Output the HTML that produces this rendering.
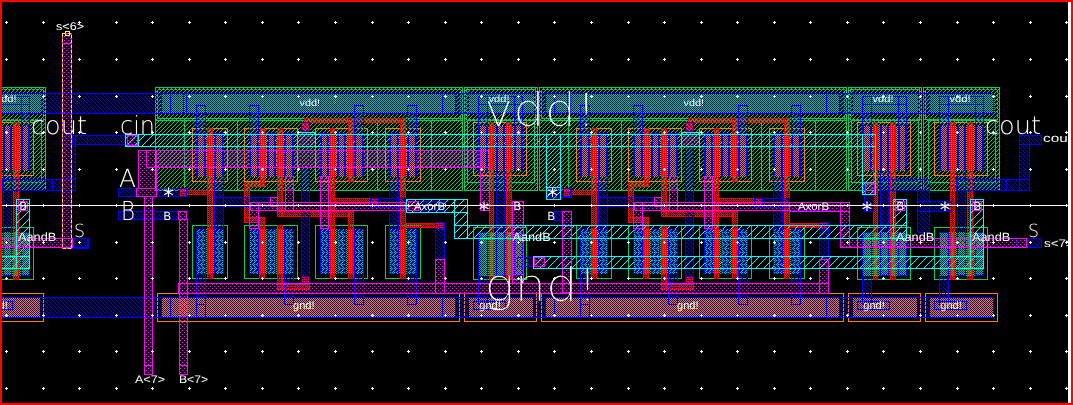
<!DOCTYPE html><html><head><meta charset="utf-8"><title>layout</title><style>html,body{margin:0;padding:0;background:#000;overflow:hidden}svg{display:block}text{font-family:"Liberation Sans",sans-serif;fill:#fff}.d{font-family:"DejaVu Sans","Liberation Sans",sans-serif}.l{font-family:"DejaVu Sans Light","DejaVu Sans","Liberation Sans",sans-serif;font-weight:200}</style></head><body>
<svg width="1073" height="405" viewBox="0 0 1073 405" shape-rendering="crispEdges" text-rendering="geometricPrecision"><defs><pattern id="nw" width="4" height="4" patternUnits="userSpaceOnUse"><rect x="3" y="0" width="1" height="1" fill="#00cc66"/><rect x="2" y="1" width="1" height="1" fill="#00cc66"/><rect x="1" y="2" width="1" height="1" fill="#00cc66"/><rect x="0" y="3" width="1" height="1" fill="#00cc66"/></pattern><pattern id="m1" width="4" height="4" patternUnits="userSpaceOnUse"><rect x="0" y="0" width="1" height="1" fill="#0000ff"/><rect x="1" y="1" width="1" height="1" fill="#0000ff"/><rect x="2" y="2" width="1" height="1" fill="#0000ff"/><rect x="3" y="3" width="1" height="1" fill="#0000ff"/></pattern><pattern id="m3" width="8" height="8" patternUnits="userSpaceOnUse"><rect x="7" y="0" width="1" height="1" fill="#00ffff"/><rect x="6" y="1" width="1" height="1" fill="#00ffff"/><rect x="5" y="2" width="1" height="1" fill="#00ffff"/><rect x="4" y="3" width="1" height="1" fill="#00ffff"/><rect x="3" y="4" width="1" height="1" fill="#00ffff"/><rect x="2" y="5" width="1" height="1" fill="#00ffff"/><rect x="1" y="6" width="1" height="1" fill="#00ffff"/><rect x="0" y="7" width="1" height="1" fill="#00ffff"/></pattern><pattern id="m2" width="4" height="4" patternUnits="userSpaceOnUse"><rect x="0" y="0" width="1" height="1" fill="#ff00ff"/><rect x="2" y="2" width="1" height="1" fill="#ff00ff"/></pattern><pattern id="po" width="2" height="2" patternUnits="userSpaceOnUse"><rect x="0" y="0" width="1" height="1" fill="#ff0000"/><rect x="1" y="1" width="1" height="1" fill="#ff0000"/></pattern><pattern id="pa" width="2" height="2" patternUnits="userSpaceOnUse"><rect x="0" y="1" width="1" height="1" fill="#ff8000"/><rect x="1" y="0" width="1" height="1" fill="#ff8000"/></pattern><pattern id="na" width="2" height="2" patternUnits="userSpaceOnUse"><rect x="0" y="1" width="1" height="1" fill="#00cc66"/><rect x="1" y="0" width="1" height="1" fill="#00cc66"/></pattern><pattern id="pg" width="2" height="2" patternUnits="userSpaceOnUse"><rect x="0" y="0" width="1" height="1" fill="#ff0000"/><rect x="0" y="1" width="1" height="1" fill="#ff0000"/><rect x="1" y="1" width="1" height="1" fill="#ff0000"/></pattern><pattern id="sp" width="4" height="8" patternUnits="userSpaceOnUse"><rect width="4" height="8" fill="#000"/><rect x="0" y="0" width="1" height="1" fill="#ff8000"/><rect x="0" y="2" width="1" height="1" fill="#ff8000"/><rect x="0" y="3" width="1" height="1" fill="#0000ff"/><rect x="0" y="4" width="1" height="1" fill="#ff8000"/><rect x="0" y="5" width="1" height="1" fill="#0000ff"/><rect x="0" y="6" width="1" height="1" fill="#ff8000"/><rect x="1" y="0" width="1" height="1" fill="#0000ff"/><rect x="1" y="1" width="1" height="1" fill="#ff8000"/><rect x="1" y="3" width="1" height="1" fill="#ff8000"/><rect x="1" y="4" width="1" height="1" fill="#0000ff"/><rect x="1" y="5" width="1" height="1" fill="#ff8000"/><rect x="1" y="7" width="1" height="1" fill="#ff8000"/><rect x="2" y="0" width="1" height="1" fill="#ff8000"/><rect x="2" y="1" width="1" height="1" fill="#0000ff"/><rect x="2" y="2" width="1" height="1" fill="#ff8000"/><rect x="2" y="4" width="1" height="1" fill="#ff8000"/><rect x="2" y="6" width="1" height="1" fill="#ff8000"/><rect x="2" y="7" width="1" height="1" fill="#0000ff"/><rect x="3" y="1" width="1" height="1" fill="#ff8000"/><rect x="3" y="2" width="1" height="1" fill="#0000ff"/><rect x="3" y="3" width="1" height="1" fill="#ff8000"/><rect x="3" y="5" width="1" height="1" fill="#ff8000"/><rect x="3" y="6" width="1" height="1" fill="#0000ff"/><rect x="3" y="7" width="1" height="1" fill="#ff8000"/></pattern><pattern id="sn" width="4" height="8" patternUnits="userSpaceOnUse"><rect width="4" height="8" fill="#000"/><rect x="0" y="0" width="1" height="1" fill="#00cc66"/><rect x="0" y="1" width="1" height="1" fill="#0000ff"/><rect x="0" y="3" width="1" height="1" fill="#0000ff"/><rect x="0" y="4" width="1" height="1" fill="#00cc66"/><rect x="0" y="5" width="1" height="1" fill="#0000ff"/><rect x="0" y="7" width="1" height="1" fill="#0000ff"/><rect x="1" y="0" width="1" height="1" fill="#0000ff"/><rect x="1" y="1" width="1" height="1" fill="#00cc66"/><rect x="1" y="2" width="1" height="1" fill="#0000ff"/><rect x="1" y="4" width="1" height="1" fill="#0000ff"/><rect x="1" y="6" width="1" height="1" fill="#0000ff"/><rect x="1" y="7" width="1" height="1" fill="#00cc66"/><rect x="2" y="0" width="1" height="1" fill="#00cc66"/><rect x="2" y="1" width="1" height="1" fill="#0000ff"/><rect x="2" y="2" width="1" height="1" fill="#00cc66"/><rect x="2" y="3" width="1" height="1" fill="#0000ff"/><rect x="2" y="4" width="1" height="1" fill="#00cc66"/><rect x="2" y="5" width="1" height="1" fill="#0000ff"/><rect x="2" y="6" width="1" height="1" fill="#00cc66"/><rect x="2" y="7" width="1" height="1" fill="#0000ff"/><rect x="3" y="0" width="1" height="1" fill="#0000ff"/><rect x="3" y="2" width="1" height="1" fill="#0000ff"/><rect x="3" y="3" width="1" height="1" fill="#00cc66"/><rect x="3" y="4" width="1" height="1" fill="#0000ff"/><rect x="3" y="5" width="1" height="1" fill="#00cc66"/><rect x="3" y="6" width="1" height="1" fill="#0000ff"/></pattern><pattern id="ct" width="2" height="2" patternUnits="userSpaceOnUse"><rect x="0" y="1" width="1" height="1" fill="#0000ff"/><rect x="1" y="0" width="1" height="1" fill="#0000ff"/></pattern></defs>
<rect width="1073" height="405" fill="#000"/>
<g fill="url(#nw)" stroke="#00cc66" stroke-width="1"><rect x="155.5" y="87.5" width="307" height="103"/><rect x="539.5" y="87.5" width="307" height="103"/><rect x="464.5" y="87.5" width="73" height="103"/><rect x="848.5" y="87.5" width="73" height="103"/><rect x="923.5" y="87.5" width="76" height="103"/><rect x="-30.5" y="87.5" width="76" height="103"/></g>
<g fill="none" stroke="#00cc66" stroke-width="1" stroke-dasharray="3 1"><rect x="157.5" y="89.5" width="303" height="29"/><rect x="541.5" y="89.5" width="303" height="29"/><rect x="466.5" y="89.5" width="69" height="30"/><rect x="850.5" y="89.5" width="69" height="30"/><rect x="925.5" y="89.5" width="72" height="30"/><rect x="-28.5" y="89.5" width="72" height="30"/></g>
<g fill="none" stroke="#00cc66" stroke-width="1"><path d="M155 120.5H463"/><path d="M184.5 120V191"/><path d="M237.5 120V191"/><path d="M377.5 120V191"/><path d="M431.5 120V191"/><path d="M539 120.5H847"/><path d="M568.5 120V191"/><path d="M621.5 120V191"/><path d="M761.5 120V191"/><path d="M815.5 120V191"/><rect x="467.5" y="120.5" width="67" height="62"/><rect x="851.5" y="120.5" width="67" height="62"/><rect x="928.5" y="120.5" width="67" height="62"/><rect x="-25.5" y="120.5" width="67" height="62"/></g>
<g fill="url(#pa)" stroke="none" stroke-width="1"><rect x="197" y="134" width="26" height="43"/><rect x="250" y="134" width="43" height="43"/><rect x="320" y="134" width="44" height="43"/><rect x="390" y="134" width="27" height="43"/><rect x="162" y="298" width="293" height="19"/><rect x="581" y="134" width="26" height="43"/><rect x="634" y="134" width="43" height="43"/><rect x="704" y="134" width="44" height="43"/><rect x="774" y="134" width="27" height="43"/><rect x="546" y="298" width="293" height="19"/><rect x="479" y="126" width="43" height="45"/><rect x="469" y="298" width="64" height="19"/><rect x="863" y="126" width="43" height="45"/><rect x="853" y="298" width="64" height="19"/><rect x="940" y="126" width="43" height="45"/><rect x="930" y="298" width="64" height="19"/><rect x="-14" y="126" width="43" height="45"/><rect x="-24" y="298" width="64" height="19"/></g>
<g fill="url(#na)" stroke="none" stroke-width="1"><rect x="162" y="94" width="294" height="19"/><rect x="197" y="229" width="26" height="45"/><rect x="250" y="229" width="43" height="45"/><rect x="320" y="229" width="44" height="45"/><rect x="390" y="229" width="27" height="45"/><rect x="546" y="94" width="294" height="19"/><rect x="581" y="229" width="26" height="45"/><rect x="634" y="229" width="43" height="45"/><rect x="704" y="229" width="44" height="45"/><rect x="774" y="229" width="27" height="45"/><rect x="469" y="94" width="65" height="19"/><rect x="479" y="232" width="43" height="44"/><rect x="853" y="94" width="65" height="19"/><rect x="863" y="232" width="43" height="44"/><rect x="930" y="94" width="65" height="19"/><rect x="940" y="232" width="43" height="44"/><rect x="-24" y="94" width="65" height="19"/><rect x="-14" y="232" width="43" height="44"/></g>
<g fill="none" stroke="#ff8000" stroke-width="1"><rect x="192.5" y="128.5" width="35" height="53"/><rect x="244.5" y="128.5" width="53" height="53"/><rect x="315.5" y="128.5" width="52" height="53"/><rect x="385.5" y="128.5" width="35" height="53"/><rect x="157.5" y="293.5" width="302" height="28"/><rect x="576.5" y="128.5" width="35" height="53"/><rect x="628.5" y="128.5" width="53" height="53"/><rect x="699.5" y="128.5" width="52" height="53"/><rect x="769.5" y="128.5" width="35" height="53"/><rect x="541.5" y="293.5" width="302" height="28"/><rect x="473.5" y="122.5" width="53" height="53"/><rect x="464.5" y="293.5" width="72" height="28"/><rect x="857.5" y="122.5" width="53" height="53"/><rect x="848.5" y="293.5" width="72" height="28"/><rect x="934.5" y="122.5" width="53" height="53"/><rect x="925.5" y="293.5" width="72" height="28"/><rect x="-19.5" y="122.5" width="53" height="53"/><rect x="-28.5" y="293.5" width="72" height="28"/></g>
<g fill="none" stroke="#00cc66" stroke-width="1"><rect x="192.5" y="225.5" width="35" height="53"/><rect x="244.5" y="225.5" width="53" height="53"/><rect x="315.5" y="225.5" width="52" height="53"/><rect x="385.5" y="225.5" width="35" height="53"/><rect x="576.5" y="225.5" width="35" height="53"/><rect x="628.5" y="225.5" width="53" height="53"/><rect x="699.5" y="225.5" width="52" height="53"/><rect x="769.5" y="225.5" width="35" height="53"/><rect x="473.5" y="227.5" width="53" height="52"/><rect x="857.5" y="227.5" width="53" height="52"/><rect x="934.5" y="227.5" width="53" height="52"/><rect x="-19.5" y="227.5" width="53" height="52"/></g>
<g fill="url(#po)" stroke="#ff0000" stroke-width="1"><rect x="207.5" y="128.5" width="5" height="150"/><rect x="186.5" y="190.5" width="22" height="4"/><rect x="179.5" y="188.5" width="7" height="8"/><rect x="260.5" y="128.5" width="4" height="58"/><rect x="244.5" y="182.5" width="20" height="4"/><rect x="244.5" y="182.5" width="5" height="40"/><rect x="244.5" y="217.5" width="20" height="5"/><rect x="259.5" y="217.5" width="5" height="61"/><rect x="277.5" y="128.5" width="5" height="88"/><rect x="277.5" y="211.5" width="76" height="5"/><rect x="277.5" y="225.5" width="5" height="64"/><rect x="277.5" y="284.5" width="32" height="5"/><rect x="301.5" y="276.5" width="8" height="7"/><rect x="301.5" y="122.5" width="8" height="9"/><rect x="304.5" y="118.5" width="101" height="4"/><rect x="330.5" y="128.5" width="4" height="150"/><rect x="348.5" y="118.5" width="5" height="63"/><rect x="348.5" y="212.5" width="5" height="66"/><rect x="330.5" y="198.5" width="48" height="5"/><rect x="370.5" y="198.5" width="8" height="6"/><rect x="400.5" y="118.5" width="5" height="160"/><rect x="405.5" y="223.5" width="39" height="4"/><rect x="435.5" y="222.5" width="9" height="7"/><rect x="591.5" y="128.5" width="5" height="150"/><rect x="570.5" y="190.5" width="22" height="4"/><rect x="563.5" y="188.5" width="7" height="8"/><rect x="644.5" y="128.5" width="4" height="58"/><rect x="628.5" y="182.5" width="20" height="4"/><rect x="628.5" y="182.5" width="5" height="40"/><rect x="628.5" y="217.5" width="20" height="5"/><rect x="643.5" y="217.5" width="5" height="61"/><rect x="661.5" y="128.5" width="5" height="88"/><rect x="661.5" y="211.5" width="76" height="5"/><rect x="661.5" y="225.5" width="5" height="64"/><rect x="661.5" y="284.5" width="32" height="5"/><rect x="685.5" y="276.5" width="8" height="7"/><rect x="685.5" y="122.5" width="8" height="9"/><rect x="688.5" y="118.5" width="101" height="4"/><rect x="714.5" y="128.5" width="4" height="150"/><rect x="732.5" y="118.5" width="5" height="63"/><rect x="732.5" y="212.5" width="5" height="66"/><rect x="714.5" y="198.5" width="48" height="5"/><rect x="754.5" y="198.5" width="8" height="6"/><rect x="784.5" y="118.5" width="5" height="160"/><rect x="789.5" y="223.5" width="39" height="4"/><rect x="819.5" y="222.5" width="9" height="7"/><rect x="489.5" y="122.5" width="4" height="157"/><rect x="506.5" y="122.5" width="5" height="157"/><rect x="873.5" y="122.5" width="4" height="157"/><rect x="890.5" y="122.5" width="5" height="157"/><rect x="950.5" y="122.5" width="4" height="157"/><rect x="967.5" y="122.5" width="5" height="157"/><rect x="-3.5" y="122.5" width="4" height="157"/><rect x="13.5" y="122.5" width="5" height="157"/></g>
<g fill="url(#pg)" stroke="none" stroke-width="1"><rect x="207" y="134" width="6" height="43"/><rect x="207" y="229" width="6" height="45"/><rect x="260" y="134" width="5" height="43"/><rect x="259" y="229" width="6" height="45"/><rect x="277" y="134" width="6" height="43"/><rect x="277" y="229" width="6" height="45"/><rect x="330" y="134" width="5" height="43"/><rect x="330" y="229" width="5" height="45"/><rect x="348" y="134" width="6" height="43"/><rect x="348" y="229" width="6" height="45"/><rect x="400" y="134" width="6" height="43"/><rect x="400" y="229" width="6" height="45"/><rect x="591" y="134" width="6" height="43"/><rect x="591" y="229" width="6" height="45"/><rect x="644" y="134" width="5" height="43"/><rect x="643" y="229" width="6" height="45"/><rect x="661" y="134" width="6" height="43"/><rect x="661" y="229" width="6" height="45"/><rect x="714" y="134" width="5" height="43"/><rect x="714" y="229" width="5" height="45"/><rect x="732" y="134" width="6" height="43"/><rect x="732" y="229" width="6" height="45"/><rect x="784" y="134" width="6" height="43"/><rect x="784" y="229" width="6" height="45"/><rect x="489" y="126" width="5" height="45"/><rect x="506" y="126" width="6" height="45"/><rect x="873" y="126" width="5" height="45"/><rect x="890" y="126" width="6" height="45"/><rect x="950" y="126" width="5" height="45"/><rect x="967" y="126" width="6" height="45"/><rect x="-4" y="126" width="5" height="45"/><rect x="13" y="126" width="6" height="45"/></g>
<g fill="url(#pg)" stroke="#0000ff" stroke-width="1"><rect x="179.5" y="188.5" width="7" height="8"/><rect x="301.5" y="276.5" width="8" height="7"/><rect x="301.5" y="122.5" width="8" height="9"/><rect x="370.5" y="198.5" width="8" height="6"/><rect x="435.5" y="222.5" width="9" height="7"/><rect x="563.5" y="188.5" width="7" height="8"/><rect x="685.5" y="276.5" width="8" height="7"/><rect x="685.5" y="122.5" width="8" height="9"/><rect x="754.5" y="198.5" width="8" height="6"/><rect x="819.5" y="222.5" width="9" height="7"/></g>
<g fill="url(#m1)" stroke="#0000ff" stroke-width="1"><rect x="-9.5" y="93.5" width="1003" height="20"/><rect x="-9.5" y="297.5" width="1003" height="20"/><path d="M161.5 93V114"/><path d="M170.5 93V114"/><path d="M183.5 93V114"/><path d="M186.5 93V114"/><rect x="442.5" y="93.5" width="13" height="20"/><rect x="196.5" y="105.5" width="9" height="71"/><rect x="214.5" y="133.5" width="9" height="140"/><rect x="196.5" y="229.5" width="9" height="75"/><rect x="214.5" y="197.5" width="63" height="9"/><rect x="249.5" y="105.5" width="9" height="71"/><rect x="267.5" y="133.5" width="8" height="43"/><rect x="284.5" y="133.5" width="9" height="43"/><rect x="249.5" y="229.5" width="9" height="44"/><rect x="267.5" y="229.5" width="8" height="44"/><rect x="284.5" y="229.5" width="9" height="75"/><rect x="297.5" y="132.5" width="18" height="14"/><rect x="301.5" y="132.5" width="8" height="151"/><rect x="301.5" y="122.5" width="8" height="9"/><rect x="320.5" y="133.5" width="8" height="43"/><rect x="337.5" y="133.5" width="8" height="43"/><rect x="354.5" y="105.5" width="9" height="71"/><rect x="320.5" y="229.5" width="8" height="44"/><rect x="337.5" y="229.5" width="8" height="44"/><rect x="354.5" y="229.5" width="9" height="75"/><rect x="370.5" y="198.5" width="35" height="9"/><rect x="389.5" y="133.5" width="9" height="140"/><rect x="407.5" y="105.5" width="9" height="71"/><rect x="407.5" y="229.5" width="9" height="75"/><rect x="435.5" y="222.5" width="9" height="46"/><path d="M161.5 297V318"/><path d="M170.5 297V318"/><path d="M196.5 297V318"/><path d="M205.5 297V318"/><path d="M442.5 297V318"/><path d="M455.5 297V318"/><path d="M545.5 93V114"/><path d="M554.5 93V114"/><path d="M567.5 93V114"/><path d="M570.5 93V114"/><rect x="826.5" y="93.5" width="13" height="20"/><rect x="580.5" y="105.5" width="9" height="71"/><rect x="598.5" y="133.5" width="9" height="140"/><rect x="580.5" y="229.5" width="9" height="75"/><rect x="598.5" y="197.5" width="63" height="9"/><rect x="633.5" y="105.5" width="9" height="71"/><rect x="651.5" y="133.5" width="8" height="43"/><rect x="668.5" y="133.5" width="9" height="43"/><rect x="633.5" y="229.5" width="9" height="44"/><rect x="651.5" y="229.5" width="8" height="44"/><rect x="668.5" y="229.5" width="9" height="75"/><rect x="681.5" y="132.5" width="18" height="14"/><rect x="685.5" y="132.5" width="8" height="151"/><rect x="685.5" y="122.5" width="8" height="9"/><rect x="704.5" y="133.5" width="8" height="43"/><rect x="721.5" y="133.5" width="8" height="43"/><rect x="738.5" y="105.5" width="9" height="71"/><rect x="704.5" y="229.5" width="8" height="44"/><rect x="721.5" y="229.5" width="8" height="44"/><rect x="738.5" y="229.5" width="9" height="75"/><rect x="754.5" y="198.5" width="35" height="9"/><rect x="773.5" y="133.5" width="9" height="140"/><rect x="791.5" y="105.5" width="9" height="71"/><rect x="791.5" y="229.5" width="9" height="75"/><rect x="819.5" y="222.5" width="9" height="46"/><path d="M545.5 297V318"/><path d="M554.5 297V318"/><path d="M580.5 297V318"/><path d="M589.5 297V318"/><path d="M826.5 297V318"/><path d="M839.5 297V318"/><rect x="478.5" y="96.5" width="44" height="8"/><rect x="478.5" y="96.5" width="9" height="74"/><rect x="514.5" y="96.5" width="8" height="74"/><rect x="496.5" y="126.5" width="8" height="149"/><rect x="478.5" y="232.5" width="9" height="72"/><rect x="514.5" y="232.5" width="8" height="43"/><rect x="473.5" y="301.5" width="32" height="8"/><rect x="862.5" y="96.5" width="44" height="8"/><rect x="862.5" y="96.5" width="9" height="74"/><rect x="898.5" y="96.5" width="8" height="74"/><rect x="880.5" y="126.5" width="8" height="149"/><rect x="862.5" y="232.5" width="9" height="72"/><rect x="898.5" y="232.5" width="8" height="43"/><rect x="857.5" y="301.5" width="32" height="8"/><rect x="879.5" y="179.5" width="50" height="11"/><rect x="939.5" y="96.5" width="44" height="8"/><rect x="939.5" y="96.5" width="9" height="74"/><rect x="975.5" y="96.5" width="8" height="74"/><rect x="957.5" y="126.5" width="8" height="149"/><rect x="939.5" y="232.5" width="9" height="72"/><rect x="975.5" y="232.5" width="8" height="43"/><rect x="934.5" y="301.5" width="32" height="8"/><rect x="956.5" y="179.5" width="50" height="11"/><rect x="-14.5" y="96.5" width="44" height="8"/><rect x="-14.5" y="96.5" width="9" height="74"/><rect x="21.5" y="96.5" width="8" height="74"/><rect x="3.5" y="126.5" width="8" height="149"/><rect x="-14.5" y="232.5" width="9" height="72"/><rect x="21.5" y="232.5" width="8" height="43"/><rect x="-19.5" y="301.5" width="32" height="8"/><rect x="2.5" y="179.5" width="50" height="11"/><rect x="517.5" y="257.5" width="27" height="9"/><rect x="118.5" y="188.5" width="68" height="8"/><rect x="118.5" y="211.5" width="68" height="8"/><rect x="554.5" y="211.5" width="17" height="9"/><rect x="546.5" y="188.5" width="25" height="9"/><rect x="407.5" y="201.5" width="38" height="9"/><rect x="791.5" y="202.5" width="38" height="8"/><rect x="1016.5" y="238.5" width="25" height="9"/><rect x="864.5" y="183.5" width="9" height="28"/><rect x="917.5" y="190.5" width="12" height="42"/><rect x="917.5" y="201.5" width="34" height="10"/><rect x="956.5" y="179.5" width="73" height="11"/><rect x="1019.5" y="135.5" width="10" height="55"/><rect x="1019.5" y="135.5" width="22" height="9"/><rect x="-436.5" y="257.5" width="27" height="9"/><rect x="-835.5" y="188.5" width="68" height="8"/><rect x="-835.5" y="211.5" width="68" height="8"/><rect x="-399.5" y="211.5" width="17" height="9"/><rect x="-407.5" y="188.5" width="25" height="9"/><rect x="-546.5" y="201.5" width="38" height="9"/><rect x="-162.5" y="202.5" width="38" height="8"/><rect x="62.5" y="238.5" width="25" height="9"/><rect x="-89.5" y="183.5" width="9" height="28"/><rect x="-36.5" y="190.5" width="12" height="42"/><rect x="-36.5" y="201.5" width="34" height="10"/><rect x="2.5" y="179.5" width="73" height="11"/><rect x="65.5" y="135.5" width="10" height="55"/><rect x="65.5" y="135.5" width="22" height="9"/><rect x="72.5" y="135.5" width="65" height="9"/><rect x="61.5" y="238.5" width="27" height="10"/></g>
<g fill="url(#m2)" stroke="none" stroke-width="1"><rect x="285" y="176" width="9" height="35"/><rect x="285" y="190" width="9" height="13"/><rect x="249" y="202" width="10" height="27"/><rect x="250" y="202" width="156" height="9"/><rect x="270" y="197" width="8" height="10"/><rect x="297" y="132" width="19" height="15"/><rect x="320" y="176" width="9" height="53"/><rect x="435" y="259" width="10" height="35"/><rect x="669" y="176" width="9" height="35"/><rect x="669" y="190" width="9" height="13"/><rect x="633" y="202" width="10" height="27"/><rect x="634" y="202" width="156" height="9"/><rect x="654" y="197" width="8" height="10"/><rect x="681" y="132" width="19" height="15"/><rect x="704" y="176" width="9" height="53"/><rect x="819" y="259" width="10" height="35"/><rect x="480" y="150" width="10" height="61"/><rect x="512" y="201" width="12" height="83"/><rect x="534" y="257" width="11" height="10"/><rect x="127" y="135" width="11" height="11"/><rect x="865" y="183" width="10" height="12"/><rect x="146" y="150" width="344" height="18"/><rect x="138" y="150" width="19" height="39"/><rect x="136" y="188" width="21" height="9"/><rect x="144" y="196" width="9" height="179"/><rect x="178" y="211" width="9" height="9"/><rect x="179" y="219" width="9" height="156"/><rect x="178" y="283" width="651" height="11"/><rect x="562" y="211" width="10" height="82"/><rect x="408" y="201" width="11" height="10"/><rect x="789" y="202" width="61" height="10"/><rect x="840" y="202" width="10" height="46"/><rect x="840" y="238" width="187" height="10"/><rect x="895" y="201" width="10" height="10"/><rect x="972" y="201" width="10" height="10"/><rect x="-474" y="150" width="10" height="61"/><rect x="-442" y="201" width="12" height="83"/><rect x="-420" y="257" width="11" height="10"/><rect x="-827" y="135" width="11" height="11"/><rect x="-89" y="183" width="10" height="12"/><rect x="-808" y="150" width="344" height="18"/><rect x="-816" y="150" width="19" height="39"/><rect x="-818" y="188" width="21" height="9"/><rect x="-810" y="196" width="9" height="179"/><rect x="-776" y="211" width="9" height="9"/><rect x="-775" y="219" width="9" height="156"/><rect x="-776" y="283" width="651" height="11"/><rect x="-392" y="211" width="10" height="82"/><rect x="-546" y="201" width="11" height="10"/><rect x="-165" y="202" width="61" height="10"/><rect x="-114" y="202" width="10" height="46"/><rect x="-114" y="238" width="187" height="10"/><rect x="-59" y="201" width="10" height="10"/><rect x="18" y="201" width="10" height="10"/><rect x="62" y="33" width="10" height="216"/><rect x="62" y="33" width="10" height="11"/><rect x="144" y="365" width="9" height="10"/><rect x="179" y="365" width="9" height="10"/></g>
<g fill="url(#m3)" stroke="none" stroke-width="1"><rect x="297" y="132" width="19" height="15"/><rect x="681" y="132" width="19" height="15"/><rect x="533" y="256" width="451" height="13"/><rect x="125" y="134" width="751" height="13"/><rect x="125" y="134" width="14" height="13"/><rect x="546" y="134" width="15" height="66"/><rect x="546" y="187" width="15" height="13"/><rect x="862" y="134" width="14" height="61"/><rect x="406" y="199" width="62" height="14"/><rect x="454" y="199" width="14" height="40"/><rect x="454" y="225" width="453" height="14"/><rect x="893" y="199" width="14" height="40"/><rect x="970" y="199" width="14" height="70"/><rect x="-421" y="256" width="451" height="13"/><rect x="-829" y="134" width="751" height="13"/><rect x="-829" y="134" width="14" height="13"/><rect x="-408" y="134" width="15" height="66"/><rect x="-408" y="187" width="15" height="13"/><rect x="-92" y="134" width="14" height="61"/><rect x="-548" y="199" width="62" height="14"/><rect x="-500" y="199" width="14" height="40"/><rect x="-500" y="225" width="453" height="14"/><rect x="-61" y="199" width="14" height="40"/><rect x="16" y="199" width="14" height="70"/></g>
<g fill="url(#pg)" stroke="none" stroke-width="1"><rect x="207" y="134" width="6" height="43"/><rect x="207" y="229" width="6" height="45"/><rect x="260" y="134" width="5" height="43"/><rect x="259" y="229" width="6" height="45"/><rect x="277" y="134" width="6" height="43"/><rect x="277" y="229" width="6" height="45"/><rect x="330" y="134" width="5" height="43"/><rect x="330" y="229" width="5" height="45"/><rect x="348" y="134" width="6" height="43"/><rect x="348" y="229" width="6" height="45"/><rect x="400" y="134" width="6" height="43"/><rect x="400" y="229" width="6" height="45"/><rect x="591" y="134" width="6" height="43"/><rect x="591" y="229" width="6" height="45"/><rect x="644" y="134" width="5" height="43"/><rect x="643" y="229" width="6" height="45"/><rect x="661" y="134" width="6" height="43"/><rect x="661" y="229" width="6" height="45"/><rect x="714" y="134" width="5" height="43"/><rect x="714" y="229" width="5" height="45"/><rect x="732" y="134" width="6" height="43"/><rect x="732" y="229" width="6" height="45"/><rect x="784" y="134" width="6" height="43"/><rect x="784" y="229" width="6" height="45"/><rect x="489" y="126" width="5" height="45"/><rect x="506" y="126" width="6" height="45"/><rect x="873" y="126" width="5" height="45"/><rect x="890" y="126" width="6" height="45"/><rect x="950" y="126" width="5" height="45"/><rect x="967" y="126" width="6" height="45"/><rect x="-4" y="126" width="5" height="45"/><rect x="13" y="126" width="6" height="45"/></g>
<g fill="url(#sp)" stroke="none" stroke-width="1"><rect x="198" y="134" width="6" height="43"/><rect x="216" y="134" width="6" height="43"/><rect x="251" y="134" width="6" height="43"/><rect x="269" y="134" width="5" height="43"/><rect x="286" y="134" width="6" height="43"/><rect x="322" y="134" width="5" height="43"/><rect x="339" y="134" width="5" height="43"/><rect x="356" y="134" width="6" height="43"/><rect x="391" y="134" width="6" height="43"/><rect x="409" y="134" width="6" height="43"/><rect x="582" y="134" width="6" height="43"/><rect x="600" y="134" width="6" height="43"/><rect x="635" y="134" width="6" height="43"/><rect x="653" y="134" width="5" height="43"/><rect x="670" y="134" width="6" height="43"/><rect x="706" y="134" width="5" height="43"/><rect x="723" y="134" width="5" height="43"/><rect x="740" y="134" width="6" height="43"/><rect x="775" y="134" width="6" height="43"/><rect x="793" y="134" width="6" height="43"/><rect x="480" y="126" width="6" height="45"/><rect x="516" y="126" width="5" height="45"/><rect x="498" y="126" width="5" height="45"/><rect x="864" y="126" width="6" height="45"/><rect x="900" y="126" width="5" height="45"/><rect x="882" y="126" width="5" height="45"/><rect x="941" y="126" width="6" height="45"/><rect x="977" y="126" width="5" height="45"/><rect x="959" y="126" width="5" height="45"/><rect x="-13" y="126" width="6" height="45"/><rect x="23" y="126" width="5" height="45"/><rect x="5" y="126" width="5" height="45"/></g>
<g fill="url(#sn)" stroke="none" stroke-width="1"><rect x="215" y="229" width="8" height="45"/><rect x="197" y="229" width="8" height="45"/><rect x="250" y="229" width="8" height="45"/><rect x="268" y="229" width="7" height="45"/><rect x="285" y="229" width="8" height="45"/><rect x="321" y="229" width="7" height="45"/><rect x="338" y="229" width="7" height="45"/><rect x="355" y="229" width="8" height="45"/><rect x="390" y="229" width="8" height="45"/><rect x="408" y="229" width="8" height="45"/><rect x="599" y="229" width="8" height="45"/><rect x="581" y="229" width="8" height="45"/><rect x="634" y="229" width="8" height="45"/><rect x="652" y="229" width="7" height="45"/><rect x="669" y="229" width="8" height="45"/><rect x="705" y="229" width="7" height="45"/><rect x="722" y="229" width="7" height="45"/><rect x="739" y="229" width="8" height="45"/><rect x="774" y="229" width="8" height="45"/><rect x="792" y="229" width="8" height="45"/></g>
<g fill="#0000ff" stroke="none" stroke-width="1"><rect x="197" y="134" width="1" height="43"/><rect x="204" y="134" width="1" height="43"/><rect x="215" y="134" width="1" height="43"/><rect x="222" y="134" width="1" height="43"/><rect x="250" y="134" width="1" height="43"/><rect x="257" y="134" width="1" height="43"/><rect x="268" y="134" width="1" height="43"/><rect x="274" y="134" width="1" height="43"/><rect x="285" y="134" width="1" height="43"/><rect x="292" y="134" width="1" height="43"/><rect x="321" y="134" width="1" height="43"/><rect x="327" y="134" width="1" height="43"/><rect x="338" y="134" width="1" height="43"/><rect x="344" y="134" width="1" height="43"/><rect x="355" y="134" width="1" height="43"/><rect x="362" y="134" width="1" height="43"/><rect x="390" y="134" width="1" height="43"/><rect x="397" y="134" width="1" height="43"/><rect x="408" y="134" width="1" height="43"/><rect x="415" y="134" width="1" height="43"/><rect x="581" y="134" width="1" height="43"/><rect x="588" y="134" width="1" height="43"/><rect x="599" y="134" width="1" height="43"/><rect x="606" y="134" width="1" height="43"/><rect x="634" y="134" width="1" height="43"/><rect x="641" y="134" width="1" height="43"/><rect x="652" y="134" width="1" height="43"/><rect x="658" y="134" width="1" height="43"/><rect x="669" y="134" width="1" height="43"/><rect x="676" y="134" width="1" height="43"/><rect x="705" y="134" width="1" height="43"/><rect x="711" y="134" width="1" height="43"/><rect x="722" y="134" width="1" height="43"/><rect x="728" y="134" width="1" height="43"/><rect x="739" y="134" width="1" height="43"/><rect x="746" y="134" width="1" height="43"/><rect x="774" y="134" width="1" height="43"/><rect x="781" y="134" width="1" height="43"/><rect x="792" y="134" width="1" height="43"/><rect x="799" y="134" width="1" height="43"/><rect x="479" y="126" width="1" height="45"/><rect x="486" y="126" width="1" height="45"/><rect x="515" y="126" width="1" height="45"/><rect x="521" y="126" width="1" height="45"/><rect x="497" y="126" width="1" height="45"/><rect x="503" y="126" width="1" height="45"/><rect x="863" y="126" width="1" height="45"/><rect x="870" y="126" width="1" height="45"/><rect x="899" y="126" width="1" height="45"/><rect x="905" y="126" width="1" height="45"/><rect x="881" y="126" width="1" height="45"/><rect x="887" y="126" width="1" height="45"/><rect x="940" y="126" width="1" height="45"/><rect x="947" y="126" width="1" height="45"/><rect x="976" y="126" width="1" height="45"/><rect x="982" y="126" width="1" height="45"/><rect x="958" y="126" width="1" height="45"/><rect x="964" y="126" width="1" height="45"/><rect x="-14" y="126" width="1" height="45"/><rect x="-7" y="126" width="1" height="45"/><rect x="22" y="126" width="1" height="45"/><rect x="28" y="126" width="1" height="45"/><rect x="4" y="126" width="1" height="45"/><rect x="10" y="126" width="1" height="45"/></g>
<g fill="none" stroke="#ff00ff" stroke-width="1"><rect x="285.5" y="176.5" width="8" height="34"/><rect x="285.5" y="190.5" width="8" height="12"/><rect x="249.5" y="202.5" width="9" height="26"/><rect x="250.5" y="202.5" width="155" height="8"/><rect x="270.5" y="197.5" width="7" height="9"/><rect x="297.5" y="132.5" width="18" height="14"/><rect x="320.5" y="176.5" width="8" height="52"/><rect x="435.5" y="259.5" width="9" height="34"/><rect x="669.5" y="176.5" width="8" height="34"/><rect x="669.5" y="190.5" width="8" height="12"/><rect x="633.5" y="202.5" width="9" height="26"/><rect x="634.5" y="202.5" width="155" height="8"/><rect x="654.5" y="197.5" width="7" height="9"/><rect x="681.5" y="132.5" width="18" height="14"/><rect x="704.5" y="176.5" width="8" height="52"/><rect x="819.5" y="259.5" width="9" height="34"/><rect x="480.5" y="150.5" width="9" height="60"/><rect x="512.5" y="201.5" width="11" height="82"/><rect x="534.5" y="257.5" width="10" height="9"/><rect x="127.5" y="135.5" width="10" height="10"/><rect x="865.5" y="183.5" width="9" height="11"/><rect x="146.5" y="150.5" width="343" height="17"/><rect x="138.5" y="150.5" width="18" height="38"/><rect x="136.5" y="188.5" width="20" height="8"/><rect x="144.5" y="196.5" width="8" height="178"/><rect x="178.5" y="211.5" width="8" height="8"/><rect x="179.5" y="219.5" width="8" height="155"/><rect x="178.5" y="283.5" width="650" height="10"/><rect x="562.5" y="211.5" width="9" height="81"/><rect x="408.5" y="201.5" width="10" height="9"/><rect x="789.5" y="202.5" width="60" height="9"/><rect x="840.5" y="202.5" width="9" height="45"/><rect x="840.5" y="238.5" width="186" height="9"/><rect x="895.5" y="201.5" width="9" height="9"/><rect x="972.5" y="201.5" width="9" height="9"/><rect x="-473.5" y="150.5" width="9" height="60"/><rect x="-441.5" y="201.5" width="11" height="82"/><rect x="-419.5" y="257.5" width="10" height="9"/><rect x="-826.5" y="135.5" width="10" height="10"/><rect x="-88.5" y="183.5" width="9" height="11"/><rect x="-807.5" y="150.5" width="343" height="17"/><rect x="-815.5" y="150.5" width="18" height="38"/><rect x="-817.5" y="188.5" width="20" height="8"/><rect x="-809.5" y="196.5" width="8" height="178"/><rect x="-775.5" y="211.5" width="8" height="8"/><rect x="-774.5" y="219.5" width="8" height="155"/><rect x="-775.5" y="283.5" width="650" height="10"/><rect x="-391.5" y="211.5" width="9" height="81"/><rect x="-545.5" y="201.5" width="10" height="9"/><rect x="-164.5" y="202.5" width="60" height="9"/><rect x="-113.5" y="202.5" width="9" height="45"/><rect x="-113.5" y="238.5" width="186" height="9"/><rect x="-58.5" y="201.5" width="9" height="9"/><rect x="18.5" y="201.5" width="9" height="9"/><rect x="62.5" y="33.5" width="9" height="215"/><rect x="62.5" y="33.5" width="9" height="10"/><rect x="144.5" y="365.5" width="8" height="9"/><rect x="179.5" y="365.5" width="8" height="9"/></g>
<g fill="none" stroke="#00ffff" stroke-width="1"><rect x="297.5" y="132.5" width="18" height="14"/><rect x="681.5" y="132.5" width="18" height="14"/><rect x="533.5" y="256.5" width="450" height="12"/><rect x="125.5" y="134.5" width="750" height="12"/><rect x="125.5" y="134.5" width="13" height="12"/><rect x="546.5" y="134.5" width="14" height="65"/><rect x="546.5" y="187.5" width="14" height="12"/><rect x="862.5" y="134.5" width="13" height="60"/><rect x="406.5" y="199.5" width="61" height="13"/><rect x="454.5" y="199.5" width="13" height="39"/><rect x="454.5" y="225.5" width="452" height="13"/><rect x="893.5" y="199.5" width="13" height="39"/><rect x="970.5" y="199.5" width="13" height="69"/><rect x="-420.5" y="256.5" width="450" height="12"/><rect x="-828.5" y="134.5" width="750" height="12"/><rect x="-828.5" y="134.5" width="13" height="12"/><rect x="-407.5" y="134.5" width="14" height="65"/><rect x="-407.5" y="187.5" width="14" height="12"/><rect x="-91.5" y="134.5" width="13" height="60"/><rect x="-547.5" y="199.5" width="61" height="13"/><rect x="-499.5" y="199.5" width="13" height="39"/><rect x="-499.5" y="225.5" width="452" height="13"/><rect x="-60.5" y="199.5" width="13" height="39"/><rect x="16.5" y="199.5" width="13" height="69"/></g>
<g fill="none" stroke="#ffff00" stroke-width="1" stroke-dasharray="3 2"><rect x="62.5" y="33.5" width="9" height="215"/></g>
<g fill="none" stroke="#ffff00" stroke-width="1"><rect x="65.5" y="31.5" width="4" height="4"/></g>
<rect x="2" y="205" width="1066" height="1" fill="#fff"/>
<g fill="#fff"><rect x="5" y="22" width="3" height="1"/><rect x="6" y="21" width="1" height="3"/><rect x="5" y="59" width="3" height="1"/><rect x="6" y="58" width="1" height="3"/><rect x="5" y="96" width="3" height="1"/><rect x="6" y="95" width="1" height="3"/><rect x="5" y="132" width="3" height="1"/><rect x="6" y="131" width="1" height="3"/><rect x="5" y="169" width="3" height="1"/><rect x="6" y="168" width="1" height="3"/><rect x="5" y="205" width="3" height="1"/><rect x="6" y="204" width="1" height="3"/><rect x="5" y="242" width="3" height="1"/><rect x="6" y="241" width="1" height="3"/><rect x="5" y="278" width="3" height="1"/><rect x="6" y="277" width="1" height="3"/><rect x="5" y="315" width="3" height="1"/><rect x="6" y="314" width="1" height="3"/><rect x="5" y="351" width="3" height="1"/><rect x="6" y="350" width="1" height="3"/><rect x="5" y="388" width="3" height="1"/><rect x="6" y="387" width="1" height="3"/><rect x="42" y="22" width="3" height="1"/><rect x="43" y="21" width="1" height="3"/><rect x="42" y="59" width="3" height="1"/><rect x="43" y="58" width="1" height="3"/><rect x="42" y="96" width="3" height="1"/><rect x="43" y="95" width="1" height="3"/><rect x="42" y="132" width="3" height="1"/><rect x="43" y="131" width="1" height="3"/><rect x="42" y="169" width="3" height="1"/><rect x="43" y="168" width="1" height="3"/><rect x="42" y="205" width="3" height="1"/><rect x="43" y="204" width="1" height="3"/><rect x="42" y="242" width="3" height="1"/><rect x="43" y="241" width="1" height="3"/><rect x="42" y="278" width="3" height="1"/><rect x="43" y="277" width="1" height="3"/><rect x="42" y="315" width="3" height="1"/><rect x="43" y="314" width="1" height="3"/><rect x="42" y="351" width="3" height="1"/><rect x="43" y="350" width="1" height="3"/><rect x="42" y="388" width="3" height="1"/><rect x="43" y="387" width="1" height="3"/><rect x="78" y="22" width="3" height="1"/><rect x="79" y="21" width="1" height="3"/><rect x="78" y="59" width="3" height="1"/><rect x="79" y="58" width="1" height="3"/><rect x="78" y="96" width="3" height="1"/><rect x="79" y="95" width="1" height="3"/><rect x="78" y="132" width="3" height="1"/><rect x="79" y="131" width="1" height="3"/><rect x="78" y="169" width="3" height="1"/><rect x="79" y="168" width="1" height="3"/><rect x="78" y="205" width="3" height="1"/><rect x="79" y="204" width="1" height="3"/><rect x="78" y="242" width="3" height="1"/><rect x="79" y="241" width="1" height="3"/><rect x="78" y="278" width="3" height="1"/><rect x="79" y="277" width="1" height="3"/><rect x="78" y="315" width="3" height="1"/><rect x="79" y="314" width="1" height="3"/><rect x="78" y="351" width="3" height="1"/><rect x="79" y="350" width="1" height="3"/><rect x="78" y="388" width="3" height="1"/><rect x="79" y="387" width="1" height="3"/><rect x="115" y="22" width="3" height="1"/><rect x="116" y="21" width="1" height="3"/><rect x="115" y="59" width="3" height="1"/><rect x="116" y="58" width="1" height="3"/><rect x="115" y="96" width="3" height="1"/><rect x="116" y="95" width="1" height="3"/><rect x="115" y="132" width="3" height="1"/><rect x="116" y="131" width="1" height="3"/><rect x="115" y="169" width="3" height="1"/><rect x="116" y="168" width="1" height="3"/><rect x="115" y="205" width="3" height="1"/><rect x="116" y="204" width="1" height="3"/><rect x="115" y="242" width="3" height="1"/><rect x="116" y="241" width="1" height="3"/><rect x="115" y="278" width="3" height="1"/><rect x="116" y="277" width="1" height="3"/><rect x="115" y="315" width="3" height="1"/><rect x="116" y="314" width="1" height="3"/><rect x="115" y="351" width="3" height="1"/><rect x="116" y="350" width="1" height="3"/><rect x="115" y="388" width="3" height="1"/><rect x="116" y="387" width="1" height="3"/><rect x="151" y="22" width="3" height="1"/><rect x="152" y="21" width="1" height="3"/><rect x="151" y="59" width="3" height="1"/><rect x="152" y="58" width="1" height="3"/><rect x="151" y="96" width="3" height="1"/><rect x="152" y="95" width="1" height="3"/><rect x="151" y="132" width="3" height="1"/><rect x="152" y="131" width="1" height="3"/><rect x="151" y="169" width="3" height="1"/><rect x="152" y="168" width="1" height="3"/><rect x="151" y="205" width="3" height="1"/><rect x="152" y="204" width="1" height="3"/><rect x="151" y="242" width="3" height="1"/><rect x="152" y="241" width="1" height="3"/><rect x="151" y="278" width="3" height="1"/><rect x="152" y="277" width="1" height="3"/><rect x="151" y="315" width="3" height="1"/><rect x="152" y="314" width="1" height="3"/><rect x="151" y="351" width="3" height="1"/><rect x="152" y="350" width="1" height="3"/><rect x="151" y="388" width="3" height="1"/><rect x="152" y="387" width="1" height="3"/><rect x="188" y="22" width="3" height="1"/><rect x="189" y="21" width="1" height="3"/><rect x="188" y="59" width="3" height="1"/><rect x="189" y="58" width="1" height="3"/><rect x="188" y="96" width="3" height="1"/><rect x="189" y="95" width="1" height="3"/><rect x="188" y="132" width="3" height="1"/><rect x="189" y="131" width="1" height="3"/><rect x="188" y="169" width="3" height="1"/><rect x="189" y="168" width="1" height="3"/><rect x="188" y="205" width="3" height="1"/><rect x="189" y="204" width="1" height="3"/><rect x="188" y="242" width="3" height="1"/><rect x="189" y="241" width="1" height="3"/><rect x="188" y="278" width="3" height="1"/><rect x="189" y="277" width="1" height="3"/><rect x="188" y="315" width="3" height="1"/><rect x="189" y="314" width="1" height="3"/><rect x="188" y="351" width="3" height="1"/><rect x="189" y="350" width="1" height="3"/><rect x="188" y="388" width="3" height="1"/><rect x="189" y="387" width="1" height="3"/><rect x="224" y="22" width="3" height="1"/><rect x="225" y="21" width="1" height="3"/><rect x="224" y="59" width="3" height="1"/><rect x="225" y="58" width="1" height="3"/><rect x="224" y="96" width="3" height="1"/><rect x="225" y="95" width="1" height="3"/><rect x="224" y="132" width="3" height="1"/><rect x="225" y="131" width="1" height="3"/><rect x="224" y="169" width="3" height="1"/><rect x="225" y="168" width="1" height="3"/><rect x="224" y="205" width="3" height="1"/><rect x="225" y="204" width="1" height="3"/><rect x="224" y="242" width="3" height="1"/><rect x="225" y="241" width="1" height="3"/><rect x="224" y="278" width="3" height="1"/><rect x="225" y="277" width="1" height="3"/><rect x="224" y="315" width="3" height="1"/><rect x="225" y="314" width="1" height="3"/><rect x="224" y="351" width="3" height="1"/><rect x="225" y="350" width="1" height="3"/><rect x="224" y="388" width="3" height="1"/><rect x="225" y="387" width="1" height="3"/><rect x="261" y="22" width="3" height="1"/><rect x="262" y="21" width="1" height="3"/><rect x="261" y="59" width="3" height="1"/><rect x="262" y="58" width="1" height="3"/><rect x="261" y="96" width="3" height="1"/><rect x="262" y="95" width="1" height="3"/><rect x="261" y="132" width="3" height="1"/><rect x="262" y="131" width="1" height="3"/><rect x="261" y="169" width="3" height="1"/><rect x="262" y="168" width="1" height="3"/><rect x="261" y="205" width="3" height="1"/><rect x="262" y="204" width="1" height="3"/><rect x="261" y="242" width="3" height="1"/><rect x="262" y="241" width="1" height="3"/><rect x="261" y="278" width="3" height="1"/><rect x="262" y="277" width="1" height="3"/><rect x="261" y="315" width="3" height="1"/><rect x="262" y="314" width="1" height="3"/><rect x="261" y="351" width="3" height="1"/><rect x="262" y="350" width="1" height="3"/><rect x="261" y="388" width="3" height="1"/><rect x="262" y="387" width="1" height="3"/><rect x="297" y="22" width="3" height="1"/><rect x="298" y="21" width="1" height="3"/><rect x="297" y="59" width="3" height="1"/><rect x="298" y="58" width="1" height="3"/><rect x="297" y="96" width="3" height="1"/><rect x="298" y="95" width="1" height="3"/><rect x="297" y="132" width="3" height="1"/><rect x="298" y="131" width="1" height="3"/><rect x="297" y="169" width="3" height="1"/><rect x="298" y="168" width="1" height="3"/><rect x="297" y="205" width="3" height="1"/><rect x="298" y="204" width="1" height="3"/><rect x="297" y="242" width="3" height="1"/><rect x="298" y="241" width="1" height="3"/><rect x="297" y="278" width="3" height="1"/><rect x="298" y="277" width="1" height="3"/><rect x="297" y="315" width="3" height="1"/><rect x="298" y="314" width="1" height="3"/><rect x="297" y="351" width="3" height="1"/><rect x="298" y="350" width="1" height="3"/><rect x="297" y="388" width="3" height="1"/><rect x="298" y="387" width="1" height="3"/><rect x="334" y="22" width="3" height="1"/><rect x="335" y="21" width="1" height="3"/><rect x="334" y="59" width="3" height="1"/><rect x="335" y="58" width="1" height="3"/><rect x="334" y="96" width="3" height="1"/><rect x="335" y="95" width="1" height="3"/><rect x="334" y="132" width="3" height="1"/><rect x="335" y="131" width="1" height="3"/><rect x="334" y="169" width="3" height="1"/><rect x="335" y="168" width="1" height="3"/><rect x="334" y="205" width="3" height="1"/><rect x="335" y="204" width="1" height="3"/><rect x="334" y="242" width="3" height="1"/><rect x="335" y="241" width="1" height="3"/><rect x="334" y="278" width="3" height="1"/><rect x="335" y="277" width="1" height="3"/><rect x="334" y="315" width="3" height="1"/><rect x="335" y="314" width="1" height="3"/><rect x="334" y="351" width="3" height="1"/><rect x="335" y="350" width="1" height="3"/><rect x="334" y="388" width="3" height="1"/><rect x="335" y="387" width="1" height="3"/><rect x="371" y="22" width="3" height="1"/><rect x="372" y="21" width="1" height="3"/><rect x="371" y="59" width="3" height="1"/><rect x="372" y="58" width="1" height="3"/><rect x="371" y="96" width="3" height="1"/><rect x="372" y="95" width="1" height="3"/><rect x="371" y="132" width="3" height="1"/><rect x="372" y="131" width="1" height="3"/><rect x="371" y="169" width="3" height="1"/><rect x="372" y="168" width="1" height="3"/><rect x="371" y="205" width="3" height="1"/><rect x="372" y="204" width="1" height="3"/><rect x="371" y="242" width="3" height="1"/><rect x="372" y="241" width="1" height="3"/><rect x="371" y="278" width="3" height="1"/><rect x="372" y="277" width="1" height="3"/><rect x="371" y="315" width="3" height="1"/><rect x="372" y="314" width="1" height="3"/><rect x="371" y="351" width="3" height="1"/><rect x="372" y="350" width="1" height="3"/><rect x="371" y="388" width="3" height="1"/><rect x="372" y="387" width="1" height="3"/><rect x="407" y="22" width="3" height="1"/><rect x="408" y="21" width="1" height="3"/><rect x="407" y="59" width="3" height="1"/><rect x="408" y="58" width="1" height="3"/><rect x="407" y="96" width="3" height="1"/><rect x="408" y="95" width="1" height="3"/><rect x="407" y="132" width="3" height="1"/><rect x="408" y="131" width="1" height="3"/><rect x="407" y="169" width="3" height="1"/><rect x="408" y="168" width="1" height="3"/><rect x="407" y="205" width="3" height="1"/><rect x="408" y="204" width="1" height="3"/><rect x="407" y="242" width="3" height="1"/><rect x="408" y="241" width="1" height="3"/><rect x="407" y="278" width="3" height="1"/><rect x="408" y="277" width="1" height="3"/><rect x="407" y="315" width="3" height="1"/><rect x="408" y="314" width="1" height="3"/><rect x="407" y="351" width="3" height="1"/><rect x="408" y="350" width="1" height="3"/><rect x="407" y="388" width="3" height="1"/><rect x="408" y="387" width="1" height="3"/><rect x="444" y="22" width="3" height="1"/><rect x="445" y="21" width="1" height="3"/><rect x="444" y="59" width="3" height="1"/><rect x="445" y="58" width="1" height="3"/><rect x="444" y="96" width="3" height="1"/><rect x="445" y="95" width="1" height="3"/><rect x="444" y="132" width="3" height="1"/><rect x="445" y="131" width="1" height="3"/><rect x="444" y="169" width="3" height="1"/><rect x="445" y="168" width="1" height="3"/><rect x="444" y="205" width="3" height="1"/><rect x="445" y="204" width="1" height="3"/><rect x="444" y="242" width="3" height="1"/><rect x="445" y="241" width="1" height="3"/><rect x="444" y="278" width="3" height="1"/><rect x="445" y="277" width="1" height="3"/><rect x="444" y="315" width="3" height="1"/><rect x="445" y="314" width="1" height="3"/><rect x="444" y="351" width="3" height="1"/><rect x="445" y="350" width="1" height="3"/><rect x="444" y="388" width="3" height="1"/><rect x="445" y="387" width="1" height="3"/><rect x="480" y="22" width="3" height="1"/><rect x="481" y="21" width="1" height="3"/><rect x="480" y="59" width="3" height="1"/><rect x="481" y="58" width="1" height="3"/><rect x="480" y="96" width="3" height="1"/><rect x="481" y="95" width="1" height="3"/><rect x="480" y="132" width="3" height="1"/><rect x="481" y="131" width="1" height="3"/><rect x="480" y="169" width="3" height="1"/><rect x="481" y="168" width="1" height="3"/><rect x="480" y="205" width="3" height="1"/><rect x="481" y="204" width="1" height="3"/><rect x="480" y="242" width="3" height="1"/><rect x="481" y="241" width="1" height="3"/><rect x="480" y="278" width="3" height="1"/><rect x="481" y="277" width="1" height="3"/><rect x="480" y="315" width="3" height="1"/><rect x="481" y="314" width="1" height="3"/><rect x="480" y="351" width="3" height="1"/><rect x="481" y="350" width="1" height="3"/><rect x="480" y="388" width="3" height="1"/><rect x="481" y="387" width="1" height="3"/><rect x="517" y="22" width="3" height="1"/><rect x="518" y="21" width="1" height="3"/><rect x="517" y="59" width="3" height="1"/><rect x="518" y="58" width="1" height="3"/><rect x="517" y="96" width="3" height="1"/><rect x="518" y="95" width="1" height="3"/><rect x="517" y="132" width="3" height="1"/><rect x="518" y="131" width="1" height="3"/><rect x="517" y="169" width="3" height="1"/><rect x="518" y="168" width="1" height="3"/><rect x="517" y="205" width="3" height="1"/><rect x="518" y="204" width="1" height="3"/><rect x="517" y="242" width="3" height="1"/><rect x="518" y="241" width="1" height="3"/><rect x="517" y="278" width="3" height="1"/><rect x="518" y="277" width="1" height="3"/><rect x="517" y="315" width="3" height="1"/><rect x="518" y="314" width="1" height="3"/><rect x="517" y="351" width="3" height="1"/><rect x="518" y="350" width="1" height="3"/><rect x="517" y="388" width="3" height="1"/><rect x="518" y="387" width="1" height="3"/><rect x="553" y="22" width="3" height="1"/><rect x="554" y="21" width="1" height="3"/><rect x="553" y="59" width="3" height="1"/><rect x="554" y="58" width="1" height="3"/><rect x="553" y="96" width="3" height="1"/><rect x="554" y="95" width="1" height="3"/><rect x="553" y="132" width="3" height="1"/><rect x="554" y="131" width="1" height="3"/><rect x="553" y="169" width="3" height="1"/><rect x="554" y="168" width="1" height="3"/><rect x="553" y="205" width="3" height="1"/><rect x="554" y="204" width="1" height="3"/><rect x="553" y="242" width="3" height="1"/><rect x="554" y="241" width="1" height="3"/><rect x="553" y="278" width="3" height="1"/><rect x="554" y="277" width="1" height="3"/><rect x="553" y="315" width="3" height="1"/><rect x="554" y="314" width="1" height="3"/><rect x="553" y="351" width="3" height="1"/><rect x="554" y="350" width="1" height="3"/><rect x="553" y="388" width="3" height="1"/><rect x="554" y="387" width="1" height="3"/><rect x="590" y="22" width="3" height="1"/><rect x="591" y="21" width="1" height="3"/><rect x="590" y="59" width="3" height="1"/><rect x="591" y="58" width="1" height="3"/><rect x="590" y="96" width="3" height="1"/><rect x="591" y="95" width="1" height="3"/><rect x="590" y="132" width="3" height="1"/><rect x="591" y="131" width="1" height="3"/><rect x="590" y="169" width="3" height="1"/><rect x="591" y="168" width="1" height="3"/><rect x="590" y="205" width="3" height="1"/><rect x="591" y="204" width="1" height="3"/><rect x="590" y="242" width="3" height="1"/><rect x="591" y="241" width="1" height="3"/><rect x="590" y="278" width="3" height="1"/><rect x="591" y="277" width="1" height="3"/><rect x="590" y="315" width="3" height="1"/><rect x="591" y="314" width="1" height="3"/><rect x="590" y="351" width="3" height="1"/><rect x="591" y="350" width="1" height="3"/><rect x="590" y="388" width="3" height="1"/><rect x="591" y="387" width="1" height="3"/><rect x="627" y="22" width="3" height="1"/><rect x="628" y="21" width="1" height="3"/><rect x="627" y="59" width="3" height="1"/><rect x="628" y="58" width="1" height="3"/><rect x="627" y="96" width="3" height="1"/><rect x="628" y="95" width="1" height="3"/><rect x="627" y="132" width="3" height="1"/><rect x="628" y="131" width="1" height="3"/><rect x="627" y="169" width="3" height="1"/><rect x="628" y="168" width="1" height="3"/><rect x="627" y="205" width="3" height="1"/><rect x="628" y="204" width="1" height="3"/><rect x="627" y="242" width="3" height="1"/><rect x="628" y="241" width="1" height="3"/><rect x="627" y="278" width="3" height="1"/><rect x="628" y="277" width="1" height="3"/><rect x="627" y="315" width="3" height="1"/><rect x="628" y="314" width="1" height="3"/><rect x="627" y="351" width="3" height="1"/><rect x="628" y="350" width="1" height="3"/><rect x="627" y="388" width="3" height="1"/><rect x="628" y="387" width="1" height="3"/><rect x="663" y="22" width="3" height="1"/><rect x="664" y="21" width="1" height="3"/><rect x="663" y="59" width="3" height="1"/><rect x="664" y="58" width="1" height="3"/><rect x="663" y="96" width="3" height="1"/><rect x="664" y="95" width="1" height="3"/><rect x="663" y="132" width="3" height="1"/><rect x="664" y="131" width="1" height="3"/><rect x="663" y="169" width="3" height="1"/><rect x="664" y="168" width="1" height="3"/><rect x="663" y="205" width="3" height="1"/><rect x="664" y="204" width="1" height="3"/><rect x="663" y="242" width="3" height="1"/><rect x="664" y="241" width="1" height="3"/><rect x="663" y="278" width="3" height="1"/><rect x="664" y="277" width="1" height="3"/><rect x="663" y="315" width="3" height="1"/><rect x="664" y="314" width="1" height="3"/><rect x="663" y="351" width="3" height="1"/><rect x="664" y="350" width="1" height="3"/><rect x="663" y="388" width="3" height="1"/><rect x="664" y="387" width="1" height="3"/><rect x="700" y="22" width="3" height="1"/><rect x="701" y="21" width="1" height="3"/><rect x="700" y="59" width="3" height="1"/><rect x="701" y="58" width="1" height="3"/><rect x="700" y="96" width="3" height="1"/><rect x="701" y="95" width="1" height="3"/><rect x="700" y="132" width="3" height="1"/><rect x="701" y="131" width="1" height="3"/><rect x="700" y="169" width="3" height="1"/><rect x="701" y="168" width="1" height="3"/><rect x="700" y="205" width="3" height="1"/><rect x="701" y="204" width="1" height="3"/><rect x="700" y="242" width="3" height="1"/><rect x="701" y="241" width="1" height="3"/><rect x="700" y="278" width="3" height="1"/><rect x="701" y="277" width="1" height="3"/><rect x="700" y="315" width="3" height="1"/><rect x="701" y="314" width="1" height="3"/><rect x="700" y="351" width="3" height="1"/><rect x="701" y="350" width="1" height="3"/><rect x="700" y="388" width="3" height="1"/><rect x="701" y="387" width="1" height="3"/><rect x="736" y="22" width="3" height="1"/><rect x="737" y="21" width="1" height="3"/><rect x="736" y="59" width="3" height="1"/><rect x="737" y="58" width="1" height="3"/><rect x="736" y="96" width="3" height="1"/><rect x="737" y="95" width="1" height="3"/><rect x="736" y="132" width="3" height="1"/><rect x="737" y="131" width="1" height="3"/><rect x="736" y="169" width="3" height="1"/><rect x="737" y="168" width="1" height="3"/><rect x="736" y="205" width="3" height="1"/><rect x="737" y="204" width="1" height="3"/><rect x="736" y="242" width="3" height="1"/><rect x="737" y="241" width="1" height="3"/><rect x="736" y="278" width="3" height="1"/><rect x="737" y="277" width="1" height="3"/><rect x="736" y="315" width="3" height="1"/><rect x="737" y="314" width="1" height="3"/><rect x="736" y="351" width="3" height="1"/><rect x="737" y="350" width="1" height="3"/><rect x="736" y="388" width="3" height="1"/><rect x="737" y="387" width="1" height="3"/><rect x="773" y="22" width="3" height="1"/><rect x="774" y="21" width="1" height="3"/><rect x="773" y="59" width="3" height="1"/><rect x="774" y="58" width="1" height="3"/><rect x="773" y="96" width="3" height="1"/><rect x="774" y="95" width="1" height="3"/><rect x="773" y="132" width="3" height="1"/><rect x="774" y="131" width="1" height="3"/><rect x="773" y="169" width="3" height="1"/><rect x="774" y="168" width="1" height="3"/><rect x="773" y="205" width="3" height="1"/><rect x="774" y="204" width="1" height="3"/><rect x="773" y="242" width="3" height="1"/><rect x="774" y="241" width="1" height="3"/><rect x="773" y="278" width="3" height="1"/><rect x="774" y="277" width="1" height="3"/><rect x="773" y="315" width="3" height="1"/><rect x="774" y="314" width="1" height="3"/><rect x="773" y="351" width="3" height="1"/><rect x="774" y="350" width="1" height="3"/><rect x="773" y="388" width="3" height="1"/><rect x="774" y="387" width="1" height="3"/><rect x="809" y="22" width="3" height="1"/><rect x="810" y="21" width="1" height="3"/><rect x="809" y="59" width="3" height="1"/><rect x="810" y="58" width="1" height="3"/><rect x="809" y="96" width="3" height="1"/><rect x="810" y="95" width="1" height="3"/><rect x="809" y="132" width="3" height="1"/><rect x="810" y="131" width="1" height="3"/><rect x="809" y="169" width="3" height="1"/><rect x="810" y="168" width="1" height="3"/><rect x="809" y="205" width="3" height="1"/><rect x="810" y="204" width="1" height="3"/><rect x="809" y="242" width="3" height="1"/><rect x="810" y="241" width="1" height="3"/><rect x="809" y="278" width="3" height="1"/><rect x="810" y="277" width="1" height="3"/><rect x="809" y="315" width="3" height="1"/><rect x="810" y="314" width="1" height="3"/><rect x="809" y="351" width="3" height="1"/><rect x="810" y="350" width="1" height="3"/><rect x="809" y="388" width="3" height="1"/><rect x="810" y="387" width="1" height="3"/><rect x="846" y="22" width="3" height="1"/><rect x="847" y="21" width="1" height="3"/><rect x="846" y="59" width="3" height="1"/><rect x="847" y="58" width="1" height="3"/><rect x="846" y="96" width="3" height="1"/><rect x="847" y="95" width="1" height="3"/><rect x="846" y="132" width="3" height="1"/><rect x="847" y="131" width="1" height="3"/><rect x="846" y="169" width="3" height="1"/><rect x="847" y="168" width="1" height="3"/><rect x="846" y="205" width="3" height="1"/><rect x="847" y="204" width="1" height="3"/><rect x="846" y="242" width="3" height="1"/><rect x="847" y="241" width="1" height="3"/><rect x="846" y="278" width="3" height="1"/><rect x="847" y="277" width="1" height="3"/><rect x="846" y="315" width="3" height="1"/><rect x="847" y="314" width="1" height="3"/><rect x="846" y="351" width="3" height="1"/><rect x="847" y="350" width="1" height="3"/><rect x="846" y="388" width="3" height="1"/><rect x="847" y="387" width="1" height="3"/><rect x="882" y="22" width="3" height="1"/><rect x="883" y="21" width="1" height="3"/><rect x="882" y="59" width="3" height="1"/><rect x="883" y="58" width="1" height="3"/><rect x="882" y="96" width="3" height="1"/><rect x="883" y="95" width="1" height="3"/><rect x="882" y="132" width="3" height="1"/><rect x="883" y="131" width="1" height="3"/><rect x="882" y="169" width="3" height="1"/><rect x="883" y="168" width="1" height="3"/><rect x="882" y="205" width="3" height="1"/><rect x="883" y="204" width="1" height="3"/><rect x="882" y="242" width="3" height="1"/><rect x="883" y="241" width="1" height="3"/><rect x="882" y="278" width="3" height="1"/><rect x="883" y="277" width="1" height="3"/><rect x="882" y="315" width="3" height="1"/><rect x="883" y="314" width="1" height="3"/><rect x="882" y="351" width="3" height="1"/><rect x="883" y="350" width="1" height="3"/><rect x="882" y="388" width="3" height="1"/><rect x="883" y="387" width="1" height="3"/><rect x="919" y="22" width="3" height="1"/><rect x="920" y="21" width="1" height="3"/><rect x="919" y="59" width="3" height="1"/><rect x="920" y="58" width="1" height="3"/><rect x="919" y="96" width="3" height="1"/><rect x="920" y="95" width="1" height="3"/><rect x="919" y="132" width="3" height="1"/><rect x="920" y="131" width="1" height="3"/><rect x="919" y="169" width="3" height="1"/><rect x="920" y="168" width="1" height="3"/><rect x="919" y="205" width="3" height="1"/><rect x="920" y="204" width="1" height="3"/><rect x="919" y="242" width="3" height="1"/><rect x="920" y="241" width="1" height="3"/><rect x="919" y="278" width="3" height="1"/><rect x="920" y="277" width="1" height="3"/><rect x="919" y="315" width="3" height="1"/><rect x="920" y="314" width="1" height="3"/><rect x="919" y="351" width="3" height="1"/><rect x="920" y="350" width="1" height="3"/><rect x="919" y="388" width="3" height="1"/><rect x="920" y="387" width="1" height="3"/><rect x="956" y="22" width="3" height="1"/><rect x="957" y="21" width="1" height="3"/><rect x="956" y="59" width="3" height="1"/><rect x="957" y="58" width="1" height="3"/><rect x="956" y="96" width="3" height="1"/><rect x="957" y="95" width="1" height="3"/><rect x="956" y="132" width="3" height="1"/><rect x="957" y="131" width="1" height="3"/><rect x="956" y="169" width="3" height="1"/><rect x="957" y="168" width="1" height="3"/><rect x="956" y="205" width="3" height="1"/><rect x="957" y="204" width="1" height="3"/><rect x="956" y="242" width="3" height="1"/><rect x="957" y="241" width="1" height="3"/><rect x="956" y="278" width="3" height="1"/><rect x="957" y="277" width="1" height="3"/><rect x="956" y="315" width="3" height="1"/><rect x="957" y="314" width="1" height="3"/><rect x="956" y="351" width="3" height="1"/><rect x="957" y="350" width="1" height="3"/><rect x="956" y="388" width="3" height="1"/><rect x="957" y="387" width="1" height="3"/><rect x="992" y="22" width="3" height="1"/><rect x="993" y="21" width="1" height="3"/><rect x="992" y="59" width="3" height="1"/><rect x="993" y="58" width="1" height="3"/><rect x="992" y="96" width="3" height="1"/><rect x="993" y="95" width="1" height="3"/><rect x="992" y="132" width="3" height="1"/><rect x="993" y="131" width="1" height="3"/><rect x="992" y="169" width="3" height="1"/><rect x="993" y="168" width="1" height="3"/><rect x="992" y="205" width="3" height="1"/><rect x="993" y="204" width="1" height="3"/><rect x="992" y="242" width="3" height="1"/><rect x="993" y="241" width="1" height="3"/><rect x="992" y="278" width="3" height="1"/><rect x="993" y="277" width="1" height="3"/><rect x="992" y="315" width="3" height="1"/><rect x="993" y="314" width="1" height="3"/><rect x="992" y="351" width="3" height="1"/><rect x="993" y="350" width="1" height="3"/><rect x="992" y="388" width="3" height="1"/><rect x="993" y="387" width="1" height="3"/><rect x="1029" y="22" width="3" height="1"/><rect x="1030" y="21" width="1" height="3"/><rect x="1029" y="59" width="3" height="1"/><rect x="1030" y="58" width="1" height="3"/><rect x="1029" y="96" width="3" height="1"/><rect x="1030" y="95" width="1" height="3"/><rect x="1029" y="132" width="3" height="1"/><rect x="1030" y="131" width="1" height="3"/><rect x="1029" y="169" width="3" height="1"/><rect x="1030" y="168" width="1" height="3"/><rect x="1029" y="205" width="3" height="1"/><rect x="1030" y="204" width="1" height="3"/><rect x="1029" y="242" width="3" height="1"/><rect x="1030" y="241" width="1" height="3"/><rect x="1029" y="278" width="3" height="1"/><rect x="1030" y="277" width="1" height="3"/><rect x="1029" y="315" width="3" height="1"/><rect x="1030" y="314" width="1" height="3"/><rect x="1029" y="351" width="3" height="1"/><rect x="1030" y="350" width="1" height="3"/><rect x="1029" y="388" width="3" height="1"/><rect x="1030" y="387" width="1" height="3"/><rect x="1065" y="22" width="3" height="1"/><rect x="1066" y="21" width="1" height="3"/><rect x="1065" y="59" width="3" height="1"/><rect x="1066" y="58" width="1" height="3"/><rect x="1065" y="96" width="3" height="1"/><rect x="1066" y="95" width="1" height="3"/><rect x="1065" y="132" width="3" height="1"/><rect x="1066" y="131" width="1" height="3"/><rect x="1065" y="169" width="3" height="1"/><rect x="1066" y="168" width="1" height="3"/><rect x="1065" y="205" width="3" height="1"/><rect x="1066" y="204" width="1" height="3"/><rect x="1065" y="242" width="3" height="1"/><rect x="1066" y="241" width="1" height="3"/><rect x="1065" y="278" width="3" height="1"/><rect x="1066" y="277" width="1" height="3"/><rect x="1065" y="315" width="3" height="1"/><rect x="1066" y="314" width="1" height="3"/><rect x="1065" y="351" width="3" height="1"/><rect x="1066" y="350" width="1" height="3"/><rect x="1065" y="388" width="3" height="1"/><rect x="1066" y="387" width="1" height="3"/></g>
<g opacity="0.999">
<text x="56" y="30" font-size="11" textLength="28" lengthAdjust="spacingAndGlyphs">s&lt;6&gt;</text>
<text x="1044" y="246.8" font-size="11" textLength="29.5" lengthAdjust="spacingAndGlyphs">s&lt;7&gt;</text>
<text x="1043" y="141.8" font-size="11.5" textLength="29" lengthAdjust="spacingAndGlyphs">cout</text>
<text x="135" y="383.2" font-size="11" textLength="30" lengthAdjust="spacingAndGlyphs">A&lt;7&gt;</text>
<text x="179" y="383.2" font-size="11" textLength="29" lengthAdjust="spacingAndGlyphs">B&lt;7&gt;</text>
<text x="414" y="210" font-size="11" textLength="31" lengthAdjust="spacingAndGlyphs">AxorB</text>
<text x="798" y="210" font-size="11" textLength="31" lengthAdjust="spacingAndGlyphs">AxorB</text>
<text x="18" y="240.8" font-size="12" textLength="38.3" lengthAdjust="spacingAndGlyphs">AandB</text>
<text x="512.4" y="240.8" font-size="12" textLength="38.3" lengthAdjust="spacingAndGlyphs">AandB</text>
<text x="896" y="240.8" font-size="12" textLength="38.3" lengthAdjust="spacingAndGlyphs">AandB</text>
<text x="972" y="240.8" font-size="12" textLength="38.3" lengthAdjust="spacingAndGlyphs">AandB</text>
<text x="299.5" y="106" font-size="10" textLength="20.5" lengthAdjust="spacingAndGlyphs">vdd!</text>
<text x="683.5" y="106" font-size="10" textLength="20.5" lengthAdjust="spacingAndGlyphs">vdd!</text>
<text x="488.5" y="101.8" font-size="10" textLength="21" lengthAdjust="spacingAndGlyphs">vdd!</text>
<text x="872.5" y="101.8" font-size="10" textLength="21" lengthAdjust="spacingAndGlyphs">vdd!</text>
<text x="949.5" y="101.8" font-size="10" textLength="21" lengthAdjust="spacingAndGlyphs">vdd!</text>
<text x="-4.5" y="101.8" font-size="10" textLength="21" lengthAdjust="spacingAndGlyphs">vdd!</text>
<text x="-13.7" y="309.4" font-size="11" textLength="21.5" lengthAdjust="spacingAndGlyphs">gnd!</text>
<text x="293" y="309.4" font-size="11" textLength="21.5" lengthAdjust="spacingAndGlyphs">gnd!</text>
<text x="677" y="309.4" font-size="11" textLength="21.5" lengthAdjust="spacingAndGlyphs">gnd!</text>
<text x="479.3" y="309.4" font-size="11" textLength="21.5" lengthAdjust="spacingAndGlyphs">gnd!</text>
<text x="863.3" y="309.4" font-size="11" textLength="21.5" lengthAdjust="spacingAndGlyphs">gnd!</text>
<text x="940.3" y="309.4" font-size="11" textLength="21.5" lengthAdjust="spacingAndGlyphs">gnd!</text>
<mask id="t1" maskUnits="userSpaceOnUse" x="0" y="0" width="1073" height="405"><text x="484" y="125.5" font-size="46" textLength="112" lengthAdjust="spacingAndGlyphs" class="l" fill="#fff" stroke="#000" stroke-width="0.45">vdd!</text></mask>
<text x="484" y="125.5" font-size="46" textLength="112" lengthAdjust="spacingAndGlyphs" class="l" mask="url(#t1)">vdd!</text>
<mask id="t2" maskUnits="userSpaceOnUse" x="0" y="0" width="1073" height="405"><text x="484.5" y="300.5" font-size="46" textLength="113" lengthAdjust="spacingAndGlyphs" class="l" fill="#fff" stroke="#000" stroke-width="0.45">gnd!</text></mask>
<text x="484.5" y="300.5" font-size="46" textLength="113" lengthAdjust="spacingAndGlyphs" class="l" mask="url(#t2)">gnd!</text>
<text x="31" y="134" font-size="25" textLength="56" lengthAdjust="spacingAndGlyphs" class="l">cout</text>
<text x="985" y="134" font-size="25" textLength="56" lengthAdjust="spacingAndGlyphs" class="l">cout</text>
<text x="120" y="134" font-size="25" textLength="35" lengthAdjust="spacingAndGlyphs" class="l">cin</text>
<text x="119" y="187" font-size="25" textLength="17" lengthAdjust="spacingAndGlyphs" class="l">A</text>
<text x="121" y="219.5" font-size="26" textLength="14" lengthAdjust="spacingAndGlyphs" class="l">B</text>
<text x="74" y="237" font-size="18" textLength="11" lengthAdjust="spacingAndGlyphs" class="l">S</text>
<text x="1028" y="237" font-size="18" textLength="11" lengthAdjust="spacingAndGlyphs" class="l">S</text>
<text x="163.25" y="203" font-size="21" class="d">*</text>
<text x="547.25" y="203" font-size="21" class="d">*</text>
<text x="478.75" y="216.7" font-size="21" class="d">*</text>
<text x="861.75" y="216.7" font-size="21" class="d">*</text>
<text x="939.75" y="216.7" font-size="21" class="d">*</text>
<text x="163.6" y="219.8" font-size="12" textLength="7.5" lengthAdjust="spacingAndGlyphs">B</text>
<text x="547.6" y="219.8" font-size="12" textLength="7.5" lengthAdjust="spacingAndGlyphs">B</text>
<text x="513.5" y="210.3" font-size="12" textLength="7.5" lengthAdjust="spacingAndGlyphs">B</text>
<text x="896.5" y="210.3" font-size="12" textLength="7.5" lengthAdjust="spacingAndGlyphs">B</text>
<text x="973.5" y="210.3" font-size="12" textLength="7.5" lengthAdjust="spacingAndGlyphs">B</text>
<text x="19.5" y="210.3" font-size="12" textLength="7.5" lengthAdjust="spacingAndGlyphs">B</text>
</g>
<rect x="1068" y="2" width="3" height="401" fill="#fff"/>
<path d="M0 0H1073V405H0Z M2 2V403H1071V2Z" fill="#f00" fill-rule="evenodd"/>
</svg></body></html>
